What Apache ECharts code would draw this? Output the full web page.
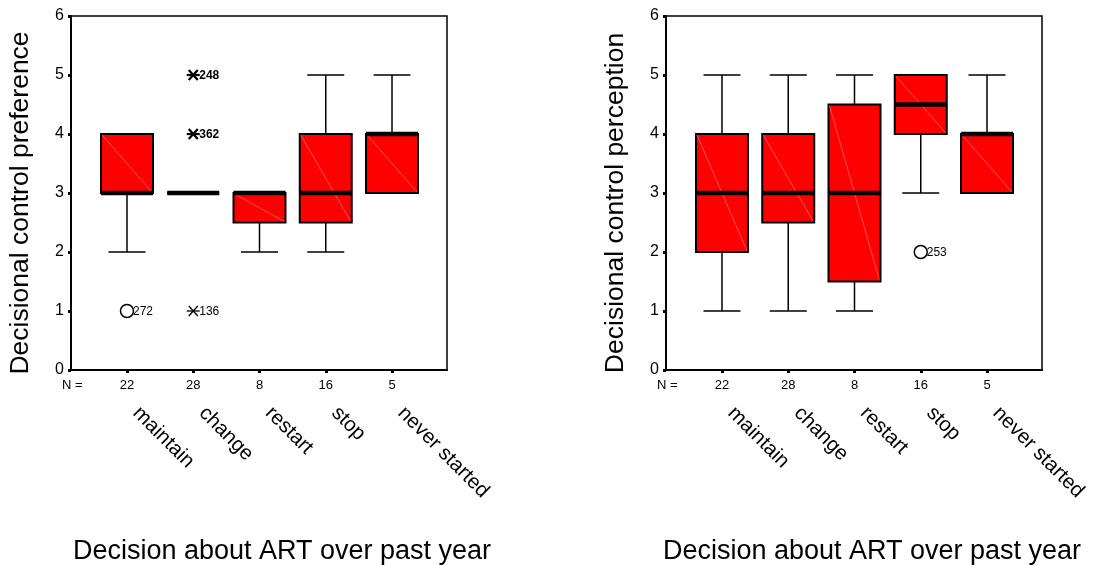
<!DOCTYPE html>
<html>
<head>
<meta charset="utf-8">
<script src="https://cdn.jsdelivr.net/npm/echarts@6/dist/echarts.min.js"></script>
<style>
html,body{margin:0;padding:0;background:#fff;}
#chart{width:1094px;height:565px;}
</style>
</head>
<body>
<div id="chart"></div>
<script>
// ---------- data ----------
const categories = ['maintain', 'change', 'restart', 'stop', 'never started'];
const nCounts = [22, 28, 8, 16, 5];
const yTicks = [0, 1, 2, 3, 4, 5, 6];

// box statistics per category: [min, Q1, median, Q3, max]
const prefBoxes = [
  [2, 3, 3, 4, 4],
  [3, 3, 3, 3, 3],
  [2, 2.5, 3, 3, 3],
  [2, 2.5, 3, 4, 5],
  [3, 3, 4, 4, 5]
];
const percBoxes = [
  [1, 2, 3, 4, 5],
  [1, 2.5, 3, 4, 5],
  [1, 1.5, 3, 4.5, 5],
  [3, 4, 4.5, 5, 5],
  [3, 3, 4, 4, 5]
];

// outliers (o) and extremes (*)
const prefOutlierCat = ['maintain', 'change', 'change', 'change'];
const prefOutlierValue = [1, 5, 4, 1];
const prefOutlierKind = ['outlier', 'extreme', 'extreme', 'extreme'];
const prefOutlierCase = ['272', '248', '362', '136'];
const prefOutlierOverlap = [false, true, true, false];

const percOutlierCat = ['stop'];
const percOutlierValue = [2];
const percOutlierKind = ['outlier'];
const percOutlierCase = ['253'];
const percOutlierOverlap = [false];

const yTitles = ['Decisional control preference', 'Decisional control perception'];
const xTitle = 'Decision about ART over past year';

// ---------- layout ----------
const FONT = '"Liberation Sans", Arial, Helvetica, sans-serif';
const X_MIN = 0.155, X_MAX = 5.83;
const GRID_W = 376, UNIT = GRID_W / (X_MAX - X_MIN);
const NAME_SHIFT = 9 / UNIT;
const grids = [
  { left: 71, top: 16, width: GRID_W, height: 354 },
  { left: 666, top: 16, width: GRID_W, height: 354 }
];
const xTitleCenters = [282, 872];

function boxRender(params, api) {
  const x = api.value(0);
  const mn = api.value(1), q1 = api.value(2), md = api.value(3), q3 = api.value(4), mx = api.value(5);
  const cx = api.coord([x, md])[0];
  const yMin = api.coord([x, mn])[1], yQ1 = api.coord([x, q1])[1];
  const yMd = api.coord([x, md])[1], yQ3 = api.coord([x, q3])[1], yMax = api.coord([x, mx])[1];
  const hb = 26, hc = 18.5;
  const ch = [];
  const ls = { stroke: '#000', lineWidth: 1.5 };
  if (mx > q3) {
    ch.push({ type: 'line', shape: { x1: cx, y1: yQ3, x2: cx, y2: yMax }, style: ls });
    ch.push({ type: 'line', shape: { x1: cx - hc, y1: yMax, x2: cx + hc, y2: yMax }, style: ls });
  }
  if (mn < q1) {
    ch.push({ type: 'line', shape: { x1: cx, y1: yQ1, x2: cx, y2: yMin }, style: ls });
    ch.push({ type: 'line', shape: { x1: cx - hc, y1: yMin, x2: cx + hc, y2: yMin }, style: ls });
  }
  ch.push({ type: 'rect', shape: { x: cx - hb, y: yQ3, width: 2 * hb, height: yQ1 - yQ3 },
    style: { fill: '#ff0000', stroke: '#000', lineWidth: 2 } });
  if (yQ1 - yQ3 > 2) {
    ch.push({ type: 'line', shape: { x1: cx - hb + 1, y1: yQ3 + 1, x2: cx + hb - 1, y2: yQ1 - 1 },
      style: { stroke: 'rgba(255,150,150,0.9)', lineWidth: 0.6 } });
  }
  ch.push({ type: 'line', shape: { x1: cx - hb, y1: yMd, x2: cx + hb, y2: yMd },
    style: { stroke: '#000', lineWidth: 4.5 } });
  return { type: 'group', children: ch };
}

function makeOutlierRender(kinds, cases, overlaps) {
  return function (params, api) {
    const p = api.coord([api.value(0), api.value(1)]);
    const cx = p[0], cy = p[1];
    const i = params.dataIndex;
    const ch = [];
    if (kinds[i] === 'outlier') {
      ch.push({ type: 'circle', shape: { cx: cx, cy: cy, r: 6.5 },
        style: { fill: '#fff', stroke: '#000', lineWidth: 1.5 } });
    } else {
      const lw = overlaps[i] ? 2.2 : 1.3;
      const st = { stroke: '#000', lineWidth: lw };
      ch.push({ type: 'line', shape: { x1: cx - 6.5, y1: cy, x2: cx + 6.5, y2: cy }, style: st });
      ch.push({ type: 'line', shape: { x1: cx - 4.5, y1: cy - 5, x2: cx + 4.5, y2: cy + 5 }, style: st });
      ch.push({ type: 'line', shape: { x1: cx + 4.5, y1: cy - 5, x2: cx - 4.5, y2: cy + 5 }, style: st });
    }
    ch.push({ type: 'text', x: cx + 6, y: cy + 0.5,
      style: { text: cases[i], fontSize: 12, fontFamily: FONT, fill: '#000',
        fontWeight: overlaps[i] ? 'bold' : 'normal', align: 'left', verticalAlign: 'middle' } });
    return { type: 'group', children: ch };
  };
}

const catValues = categories.map((c, i) => i + 1);

const xAxes = [], yAxes = [];
grids.forEach((g, gi) => {
  xAxes.push({
    type: 'value', gridIndex: gi, min: X_MIN, max: X_MAX, position: 'bottom',
    splitLine: { show: false },
    axisLine: { show: true, lineStyle: { color: '#000', width: 2 } },
    axisTick: { show: true, customValues: catValues, length: 3, lineStyle: { color: '#000', width: 3 } },
    axisLabel: { customValues: catValues, formatter: v => String(nCounts[Math.round(v) - 1]),
      fontSize: 13, color: '#000', fontFamily: FONT, margin: 9 }
  });
  xAxes.push({
    type: 'value', gridIndex: gi, min: X_MIN - NAME_SHIFT, max: X_MAX - NAME_SHIFT, position: 'bottom',
    splitLine: { show: false }, axisLine: { show: false }, axisTick: { show: false },
    axisLabel: { customValues: catValues, formatter: v => categories[Math.round(v) - 1],
      rotate: -45, fontSize: 20.5, color: '#000', fontFamily: FONT, margin: 40 }
  });
  yAxes.push({
    type: 'value', gridIndex: gi, min: 0, max: 6, interval: 1,
    splitLine: { show: false },
    axisLine: { show: true, lineStyle: { color: '#000', width: 2 } },
    axisTick: { show: true, length: 3, lineStyle: { color: '#000', width: 3 } },
    axisLabel: { fontSize: 16, color: '#000', fontFamily: FONT, margin: 7,
      customValues: yTicks }
  });
});

function outlierData(cats, vals) {
  return cats.map((c, i) => [categories.indexOf(c) + 1, vals[i]]);
}

const series = [
  { type: 'custom', xAxisIndex: 0, yAxisIndex: 0, renderItem: boxRender, clip: false,
    encode: { x: 0, y: [1, 2, 3, 4, 5] }, data: prefBoxes.map((b, i) => [i + 1].concat(b)) },
  { type: 'custom', xAxisIndex: 0, yAxisIndex: 0, clip: false,
    renderItem: makeOutlierRender(prefOutlierKind, prefOutlierCase, prefOutlierOverlap),
    encode: { x: 0, y: 1 }, data: outlierData(prefOutlierCat, prefOutlierValue) },
  { type: 'custom', xAxisIndex: 2, yAxisIndex: 1, renderItem: boxRender, clip: false,
    encode: { x: 0, y: [1, 2, 3, 4, 5] }, data: percBoxes.map((b, i) => [i + 1].concat(b)) },
  { type: 'custom', xAxisIndex: 2, yAxisIndex: 1, clip: false,
    renderItem: makeOutlierRender(percOutlierKind, percOutlierCase, percOutlierOverlap),
    encode: { x: 0, y: 1 }, data: outlierData(percOutlierCat, percOutlierValue) }
];

const graphics = [];
grids.forEach((g, gi) => {
  const off = gi * 595;
  graphics.push({ type: 'text', x: 21 + off, y: 203, rotation: Math.PI / 2,
    style: { text: yTitles[gi], fontSize: 26.5, fontFamily: FONT, fill: '#000', align: 'center', verticalAlign: 'middle' } });
  graphics.push({ type: 'text', x: xTitleCenters[gi], y: 552,
    style: { text: xTitle, fontSize: 27, fontFamily: FONT, fill: '#000', align: 'center', verticalAlign: 'middle' } });
  graphics.push({ type: 'text', x: 62 + off, y: 385,
    style: { text: 'N =', fontSize: 13, fontFamily: FONT, fill: '#000', align: 'left', verticalAlign: 'middle' } });
});

const chart = echarts.init(document.getElementById('chart'), null, { renderer: 'canvas' });
chart.setOption({
  backgroundColor: '#fff',
  animation: false,
  grid: grids.map(g => Object.assign({ show: true, borderColor: '#000', borderWidth: 1.5,
    backgroundColor: 'transparent' }, g)),
  xAxis: xAxes,
  yAxis: yAxes,
  series: series,
  graphic: graphics
});
</script>
</body>
</html>
